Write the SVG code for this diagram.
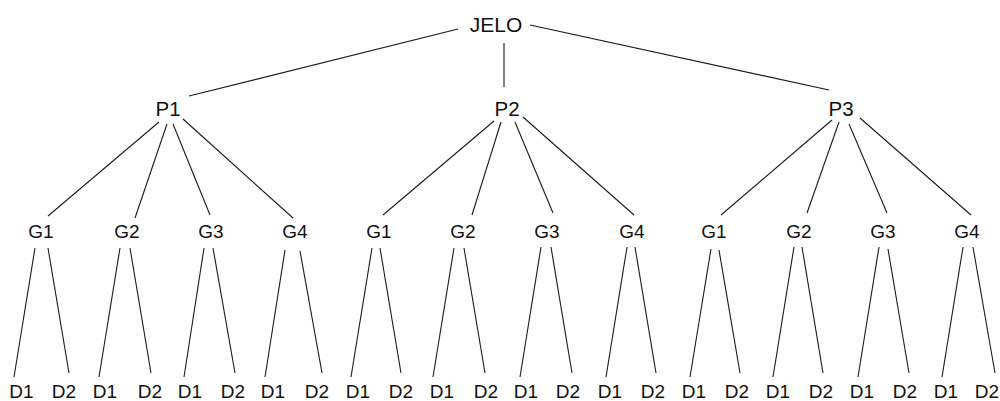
<svg xmlns="http://www.w3.org/2000/svg" width="1000" height="401" viewBox="0 0 1000 401">
<style>
text{font-family:"Liberation Sans",Arial,sans-serif;fill:#111;text-anchor:middle}
.r{font-size:21px}.p{font-size:20.5px}.n{font-size:19px}
#connectors line{stroke:#1a1a1a;stroke-width:1.1;fill:none}
</style>
<rect width="1000" height="401" fill="#fff"/>
<g id="connectors">
<line x1="458" y1="29" x2="189" y2="96"/>
<line x1="504" y1="43" x2="504" y2="87"/>
<line x1="530" y1="25" x2="829" y2="90"/>
<line x1="159" y1="122" x2="48" y2="216"/>
<line x1="167" y1="124" x2="135" y2="218"/>
<line x1="173" y1="124" x2="210" y2="215"/>
<line x1="183" y1="119" x2="293" y2="218"/>
<line x1="494" y1="121" x2="383" y2="215"/>
<line x1="501" y1="122" x2="472" y2="215"/>
<line x1="515" y1="122" x2="553" y2="213"/>
<line x1="523" y1="117" x2="634" y2="215"/>
<line x1="832" y1="120" x2="721" y2="215"/>
<line x1="839" y1="122" x2="807" y2="213"/>
<line x1="849" y1="124" x2="887" y2="213"/>
<line x1="860" y1="118" x2="971" y2="215"/>
<line x1="35" y1="248" x2="14" y2="377"/><line x1="48" y1="248" x2="69" y2="373"/>
<line x1="120" y1="248" x2="99" y2="377"/><line x1="130" y1="248" x2="151" y2="373"/>
<line x1="204" y1="248" x2="184" y2="377"/><line x1="213" y1="248" x2="235" y2="373"/>
<line x1="285" y1="250" x2="265" y2="377"/><line x1="300" y1="251" x2="322" y2="373"/>
<line x1="372" y1="248" x2="351" y2="377"/><line x1="380" y1="248" x2="401" y2="373"/>
<line x1="454" y1="248" x2="433" y2="377"/><line x1="464" y1="248" x2="485" y2="373"/>
<line x1="541" y1="247" x2="520" y2="377"/><line x1="551" y1="247" x2="572" y2="373"/>
<line x1="627" y1="247" x2="606" y2="377"/><line x1="635" y1="247" x2="656" y2="373"/>
<line x1="711" y1="249" x2="690" y2="377"/><line x1="719" y1="250" x2="740" y2="373"/>
<line x1="794" y1="247" x2="773" y2="377"/><line x1="802" y1="247" x2="823" y2="373"/>
<line x1="879" y1="247" x2="858" y2="377"/><line x1="888" y1="249" x2="909" y2="373"/>
<line x1="963" y1="247" x2="942" y2="377"/><line x1="973" y1="247" x2="995" y2="373"/>
</g>
<g id="n-jelo"><text class="r" x="496" y="32">JELO</text></g>
<g id="n-p1"><text class="p" x="168" y="116">P1</text></g>
<g id="n-p2"><text class="p" x="507" y="116">P2</text></g>
<g id="n-p3"><text class="p" x="841" y="116">P3</text></g>
<g id="n-p1-g1"><text class="n" x="41" y="238">G1</text></g>
<g id="n-p1-g2"><text class="n" x="127" y="238">G2</text></g>
<g id="n-p1-g3"><text class="n" x="211" y="238">G3</text></g>
<g id="n-p1-g4"><text class="n" x="295" y="238">G4</text></g>
<g id="n-p2-g1"><text class="n" x="379" y="238">G1</text></g>
<g id="n-p2-g2"><text class="n" x="463" y="238">G2</text></g>
<g id="n-p2-g3"><text class="n" x="547" y="238">G3</text></g>
<g id="n-p2-g4"><text class="n" x="632" y="238">G4</text></g>
<g id="n-p3-g1"><text class="n" x="714" y="238">G1</text></g>
<g id="n-p3-g2"><text class="n" x="799" y="238">G2</text></g>
<g id="n-p3-g3"><text class="n" x="883" y="238">G3</text></g>
<g id="n-p3-g4"><text class="n" x="967" y="238">G4</text></g>
<g id="n-d01"><text class="n" x="21.5" y="398">D1</text></g>
<g id="n-d02"><text class="n" x="64" y="398">D2</text></g>
<g id="n-d03"><text class="n" x="105" y="398">D1</text></g>
<g id="n-d04"><text class="n" x="150" y="398">D2</text></g>
<g id="n-d05"><text class="n" x="190" y="398">D1</text></g>
<g id="n-d06"><text class="n" x="233" y="398">D2</text></g>
<g id="n-d07"><text class="n" x="273" y="398">D1</text></g>
<g id="n-d08"><text class="n" x="317" y="398">D2</text></g>
<g id="n-d09"><text class="n" x="358" y="398">D1</text></g>
<g id="n-d10"><text class="n" x="401" y="398">D2</text></g>
<g id="n-d11"><text class="n" x="442" y="398">D1</text></g>
<g id="n-d12"><text class="n" x="486" y="398">D2</text></g>
<g id="n-d13"><text class="n" x="526" y="398">D1</text></g>
<g id="n-d14"><text class="n" x="568" y="398">D2</text></g>
<g id="n-d15"><text class="n" x="610" y="398">D1</text></g>
<g id="n-d16"><text class="n" x="653" y="398">D2</text></g>
<g id="n-d17"><text class="n" x="694" y="398">D1</text></g>
<g id="n-d18"><text class="n" x="737" y="398">D2</text></g>
<g id="n-d19"><text class="n" x="778" y="398">D1</text></g>
<g id="n-d20"><text class="n" x="821" y="398">D2</text></g>
<g id="n-d21"><text class="n" x="862" y="398">D1</text></g>
<g id="n-d22"><text class="n" x="905" y="398">D2</text></g>
<g id="n-d23"><text class="n" x="946" y="398">D1</text></g>
<g id="n-d24"><text class="n" x="999" y="398" style="text-anchor:end">D2</text></g>
</svg>
